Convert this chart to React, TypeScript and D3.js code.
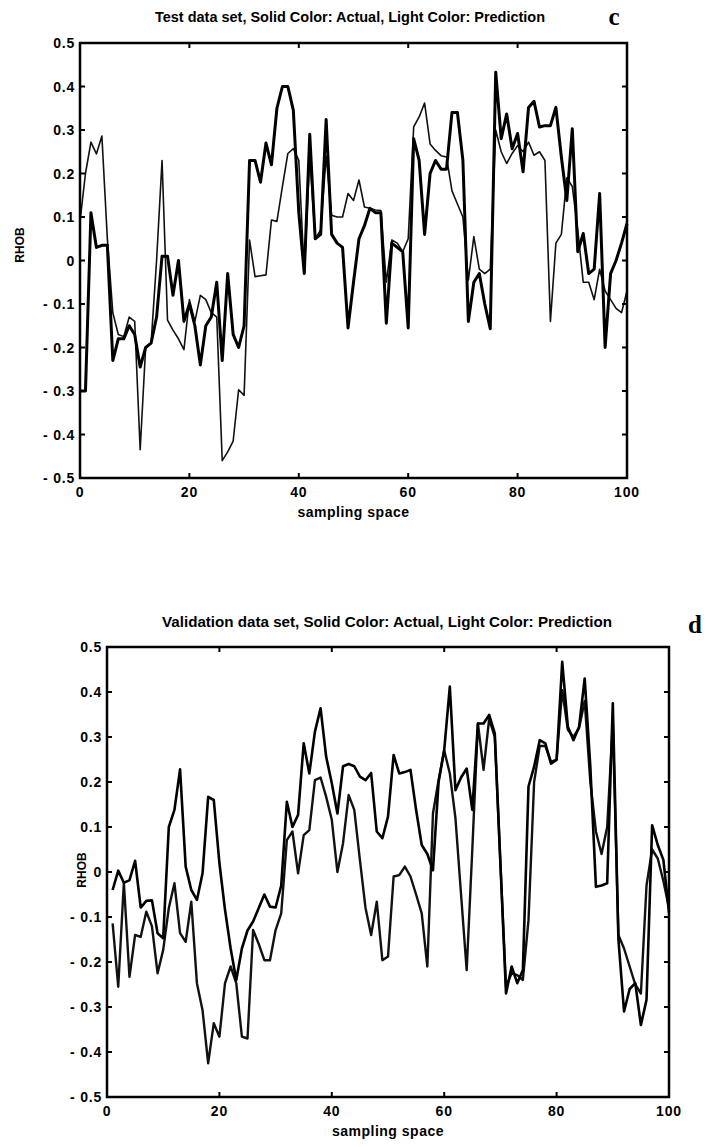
import React from "react";
import * as d3 from "d3";

// ---------- data ----------
const X_TICKS = [0, 20, 40, 60, 80, 100];
const Y_TICKS = [0.5, 0.4, 0.3, 0.2, 0.1, 0, -0.1, -0.2, -0.3, -0.4, -0.5];

const TOP_TITLE = "Test data set,  Solid Color: Actual, Light Color: Prediction";
const BOTTOM_TITLE = "Validation data set, Solid Color: Actual, Light Color: Prediction";

// Test data set (x = 0..100)
const TEST_ACTUAL = [
  -0.30, -0.30, 0.11, 0.03, 0.035, 0.035, -0.23, -0.18, -0.18, -0.15,
  -0.17, -0.245, -0.20, -0.19, -0.13, 0.01, 0.01, -0.08, 0.00, -0.14,
  -0.10, -0.15, -0.24, -0.15, -0.13, -0.05, -0.23, -0.03, -0.17, -0.20,
  -0.15, 0.23, 0.23, 0.18, 0.27, 0.22, 0.35, 0.40, 0.40, 0.345,
  0.11, -0.03, 0.29, 0.05, 0.06, 0.324, 0.06, 0.04, 0.03, -0.155,
  -0.05, 0.05, 0.08, 0.12, 0.11, 0.11, -0.144, 0.04, 0.03, 0.02,
  -0.155, 0.28, 0.23, 0.06, 0.20, 0.23, 0.21, 0.21, 0.34, 0.34,
  0.23, -0.14, -0.05, -0.03, -0.10, -0.157, 0.433, 0.28, 0.337, 0.257,
  0.292, 0.204, 0.352, 0.366, 0.307, 0.31, 0.31, 0.352, 0.238, 0.138,
  0.303, 0.02, 0.062, -0.03, -0.02, 0.154, -0.20, -0.03, 0.00, 0.04,
  0.085,
];
const TEST_PRED = [
  0.09, 0.20, 0.272, 0.245, 0.286, 0.05, -0.12, -0.17, -0.175, -0.13,
  -0.14, -0.435, -0.20, -0.19, 0.00, 0.23, -0.137, -0.16, -0.18, -0.205,
  -0.09, -0.14, -0.08, -0.09, -0.12, -0.13, -0.46, -0.44, -0.415, -0.297,
  -0.31, 0.047, -0.037, -0.035, -0.033, 0.093, 0.09, 0.17, 0.246, 0.257,
  0.23, -0.03, 0.24, 0.05, 0.07, 0.24, 0.104, 0.10, 0.10, 0.154,
  0.138, 0.185, 0.123, 0.12, 0.116, 0.115, -0.05, 0.047, 0.04, 0.02,
  0.05, 0.307, 0.33, 0.362, 0.268, 0.253, 0.241, 0.238, 0.16, 0.13,
  0.10, -0.045, 0.055, -0.02, -0.03, -0.02, 0.30, 0.25, 0.223, 0.246,
  0.264, 0.25, 0.272, 0.242, 0.25, 0.23, -0.14, 0.04, 0.06, 0.19,
  0.17, 0.07, -0.05, -0.05, -0.09, -0.02, -0.07, -0.09, -0.11, -0.12,
  -0.07,
];

// Validation data set (x = 1..100)
const VAL_ACTUAL = [
  -0.04, 0.003, -0.024, -0.018, 0.025, -0.079, -0.064, -0.063, -0.136, -0.147,
  0.10, 0.138, 0.228, 0.012, -0.04, -0.062, -0.003, 0.167, 0.16, 0.02,
  -0.084, -0.17, -0.24, -0.17, -0.13, -0.11, -0.08, -0.05, -0.077, -0.079,
  -0.03, 0.156, 0.10, 0.127, 0.286, 0.219, 0.312, 0.364, 0.256, 0.197,
  0.13, 0.235, 0.24, 0.235, 0.212, 0.204, 0.22, 0.09, 0.075, 0.123,
  0.26, 0.219, 0.222, 0.227, 0.138, 0.06, 0.04, 0.004, 0.20, 0.271,
  0.412, 0.182, 0.21, 0.23, 0.138, 0.33, 0.33, 0.349, 0.308, 0.02,
  -0.27, -0.21, -0.247, -0.218, 0.19, 0.234, 0.293, 0.286, 0.241, 0.249,
  0.467, 0.323, 0.293, 0.323, 0.43, 0.234, -0.033, -0.03, -0.025, 0.375,
  -0.15, -0.31, -0.26, -0.247, -0.34, -0.284, 0.104, 0.06, 0.027, -0.09,
];
const VAL_PRED = [
  -0.114, -0.255, -0.024, -0.233, -0.14, -0.144, -0.088, -0.121, -0.225, -0.173,
  -0.08, -0.025, -0.136, -0.155, -0.066, -0.247, -0.307, -0.425, -0.336, -0.366,
  -0.247, -0.21, -0.247, -0.366, -0.37, -0.129, -0.16, -0.196, -0.196, -0.129,
  -0.092, 0.071, 0.09, -0.003, 0.082, 0.093, 0.204, 0.21, 0.167, 0.116,
  0.00, 0.064, 0.171, 0.138, 0.027, -0.08, -0.14, -0.066, -0.196, -0.188,
  -0.01, -0.007, 0.012, -0.01, -0.05, -0.092, -0.21, 0.13, 0.204, 0.27,
  0.219, 0.12, -0.05, -0.218, 0.05, 0.33, 0.227, 0.34, 0.30, 0.02,
  -0.255, -0.225, -0.229, -0.24, -0.107, 0.20, 0.28, 0.28, 0.245, 0.25,
  0.404, 0.316, 0.30, 0.32, 0.38, 0.20, 0.09, 0.04, 0.10, 0.33,
  -0.14, -0.17, -0.21, -0.25, -0.27, -0.03, 0.05, 0.03, -0.02, -0.08,
];

// ---------- drawing ----------
type PanelProps = {
  left: number; right: number; top: number; bottom: number;
  title: string; titleX: number; titleY: number; titleLen: number;
  letter: string; letterX: number; letterY: number;
  actual: number[]; pred: number[]; x0: number;
  rhobX: number; rhobY: number;
  predWidth: number; actualWidth: number;
};

const fmt = (v: number) => {
  if (Math.abs(v) < 1e-9) return "0";
  if (v < 0) return "- " + Math.abs(v).toFixed(1);
  return v.toFixed(1);
};

function Panel(p: PanelProps) {
  const x = d3.scaleLinear().domain([0, 100]).range([p.left, p.right]);
  const y = d3.scaleLinear().domain([-0.5, 0.5]).range([p.bottom, p.top]);
  const line = d3
    .line<number>()
    .x((_, i) => x(i + p.x0))
    .y((d) => y(d));
  const tickLen = 5;
  const labelFont = "'Liberation Sans', Arial, sans-serif";
  return (
    <g>
      <text
        x={p.titleX}
        y={p.titleY}
        textAnchor="middle"
        fontFamily={labelFont}
        fontWeight="bold"
        fontSize={15}
        textLength={p.titleLen}
        lengthAdjust="spacingAndGlyphs"
      >
        {p.title}
      </text>
      <text
        x={p.letterX}
        y={p.letterY}
        textAnchor="middle"
        fontFamily="'Liberation Serif', 'DejaVu Serif', serif"
        fontWeight="bold"
        fontSize={25}
      >
        {p.letter}
      </text>
      {/* data lines */}
      <path d={line(p.pred) || ""} fill="none" stroke="#111" strokeWidth={p.predWidth} strokeLinejoin="round" />
      <path d={line(p.actual) || ""} fill="none" stroke="#000" strokeWidth={p.actualWidth} strokeLinejoin="round" />
      {/* frame */}
      <rect
        x={p.left}
        y={p.top}
        width={p.right - p.left}
        height={p.bottom - p.top}
        fill="none"
        stroke="#000"
        strokeWidth={2.5}
      />
      {/* ticks */}
      {X_TICKS.map((t) => (
        <g key={"x" + t}>
          <line x1={x(t)} x2={x(t)} y1={p.bottom} y2={p.bottom - tickLen} stroke="#000" strokeWidth={2} />
          <line x1={x(t)} x2={x(t)} y1={p.top} y2={p.top + tickLen} stroke="#000" strokeWidth={2} />
          <text
            x={x(t)}
            y={p.bottom + 19}
            textAnchor="middle"
            fontFamily={labelFont}
            fontWeight="bold"
            fontSize={14}
            letterSpacing={0.8}
          >
            {t}
          </text>
        </g>
      ))}
      {Y_TICKS.map((t) => (
        <g key={"y" + t}>
          <line x1={p.left} x2={p.left + tickLen} y1={y(t)} y2={y(t)} stroke="#000" strokeWidth={2} />
          <line x1={p.right} x2={p.right - tickLen} y1={y(t)} y2={y(t)} stroke="#000" strokeWidth={2} />
          <text
            x={p.left - 5}
            y={y(t) + 5}
            textAnchor="end"
            fontFamily={labelFont}
            fontWeight="bold"
            fontSize={14}
            letterSpacing={0.8}
          >
            {fmt(t)}
          </text>
        </g>
      ))}
      <text
        x={(p.left + p.right) / 2}
        y={p.bottom + 39}
        textAnchor="middle"
        fontFamily={labelFont}
        fontWeight="bold"
        fontSize={14}
        letterSpacing={0.5}
      >
        sampling space
      </text>
      <text
        transform={`translate(${p.rhobX},${p.rhobY}) rotate(-90)`}
        textAnchor="middle"
        fontFamily={labelFont}
        fontWeight="bold"
        fontSize={12}
      >
        RHOB
      </text>
    </g>
  );
}

export default function App() {
  return (
    <svg
      width={707}
      height={1147}
      viewBox="0 0 707 1147"
      style={{ position: "absolute", left: 0, top: 0, background: "#fff" }}
    >
      <rect x={0} y={0} width={707} height={1147} fill="#fff" />
      <Panel
        left={80} right={627} top={43} bottom={478}
        title={TOP_TITLE} titleX={350} titleY={22} titleLen={390}
        letter="c" letterX={614} letterY={25}
        actual={TEST_ACTUAL} pred={TEST_PRED} x0={0}
        rhobX={24} rhobY={245}
        actualWidth={3} predWidth={1.6}
      />
      <Panel
        left={107} right={669} top={647} bottom={1097}
        title={BOTTOM_TITLE} titleX={387} titleY={627} titleLen={450}
        letter="d" letterX={695} letterY={633}
        actual={VAL_ACTUAL} pred={VAL_PRED} x0={1}
        rhobX={86} rhobY={870}
        actualWidth={2.6} predWidth={2.4}
      />
    </svg>
  );
}
